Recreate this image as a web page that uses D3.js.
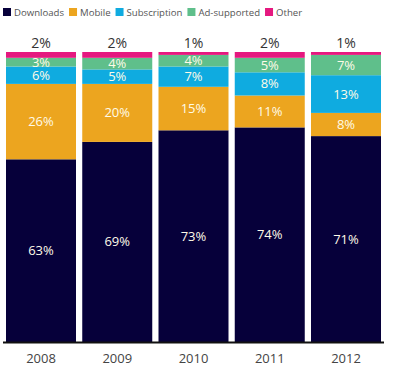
<!DOCTYPE html>
<html>
<head>
<meta charset="utf-8">
<script src="https://cdn.jsdelivr.net/npm/d3@7"></script>
<style>
  body { margin: 0; background: #fff; }
  text { font-family: "Open Sans", "Noto Sans", sans-serif; }
</style>
</head>
<body>
<div id="chart"></div>
<script>
// data (percent of revenue)
const years = ["2008", "2009", "2010", "2011", "2012"]
const seriesNames = ["Downloads", "Mobile", "Subscription", "Ad-supported", "Other"]
const downloads = [63, 69, 73, 74, 71]
const mobile = [26, 20, 15, 11, 8]
const subscription = [6, 5, 7, 8, 13]
const adSupported = [3, 4, 4, 5, 7]
const other = [2, 2, 1, 2, 1]

const colors = ["#06003a", "#eca51f", "#0fabe0", "#5fbf8b", "#e5187f"]

const width = 398,
  height = 375,
  margin = { top: 52, bottom: 33, left: 6, right: 17 };

// build rows for the stack
const rows = years.map((y, i) => ({
  year: y,
  Downloads: downloads[i],
  Mobile: mobile[i],
  Subscription: subscription[i],
  "Ad-supported": adSupported[i],
  Other: other[i]
}))

const stacked = d3.stack().keys(seriesNames)(rows)

const xScale = d3.scaleBand()
  .domain(years)
  .range([margin.left, width - margin.right])
  .paddingInner(0.082)

const yScale = d3.scaleLinear()
  .domain([0, 100])
  .range([height - margin.bottom, margin.top])

const color = d3.scaleOrdinal().domain(seriesNames).range(colors)

const svg = d3.select("#chart")
  .append("svg")
  .attr("width", width)
  .attr("height", height)

// legend
const legend = svg.append("g").attr("transform", "translate(3, 12)")
let lx = 0
seriesNames.forEach(name => {
  const g = legend.append("g").attr("transform", `translate(${lx}, 0)`)
  g.append("rect")
    .attr("x", 0).attr("y", -4)
    .attr("width", 8).attr("height", 8)
    .attr("fill", color(name))
  const t = g.append("text")
    .attr("x", 11).attr("y", 3.5)
    .attr("font-size", 9.6)
    .attr("fill", "#555")
    .text(name)
  lx += 11 + t.node().getComputedTextLength() + 5
})

// bars
const layers = svg.selectAll(".layer")
  .data(stacked)
  .join("g")
  .attr("class", "layer")
  .attr("fill", d => color(d.key))

layers.selectAll("rect")
  .data(d => d)
  .join("rect")
  .attr("x", d => xScale(d.data.year))
  .attr("y", d => yScale(d[1]))
  .attr("width", xScale.bandwidth())
  .attr("height", d => yScale(d[0]) - yScale(d[1]))

// labels inside segments (all but Other)
stacked.slice(0, 4).forEach(layer => {
  svg.append("g").selectAll("text")
    .data(layer)
    .join("text")
    .attr("x", d => xScale(d.data.year) + xScale.bandwidth() / 2)
    .attr("y", d => yScale((d[0] + d[1]) / 2) + 4.5)
    .attr("text-anchor", "middle")
    .attr("font-size", 13)
    .attr("fill", "#fffbe8")
    .text(d => (d[1] - d[0]) + "%")
})

// Other labels above the bars
svg.append("g").selectAll("text")
  .data(stacked[4])
  .join("text")
  .attr("x", d => xScale(d.data.year) + xScale.bandwidth() / 2)
  .attr("y", d => yScale(d[1]) - 4)
  .attr("text-anchor", "middle")
  .attr("font-size", 14)
  .attr("fill", "#333")
  .text(d => (d[1] - d[0]) + "%")

// x axis
const xAxis = d3.axisBottom(xScale).tickSize(0).tickPadding(12)
const xAxisGroup = svg.append("g")
  .attr("transform", `translate(0, ${height - margin.bottom})`)
  .call(xAxis)

xAxisGroup.select(".domain")
  .attr("d", `M3,0.5H${width - 14}`)
  .attr("stroke", "#111")
  .attr("stroke-width", 2)

xAxisGroup.selectAll(".tick text")
  .attr("font-size", 13)
  .attr("font-family", "'Open Sans', 'Noto Sans', sans-serif")
  .attr("fill", "#444")
</script>
</body>
</html>
